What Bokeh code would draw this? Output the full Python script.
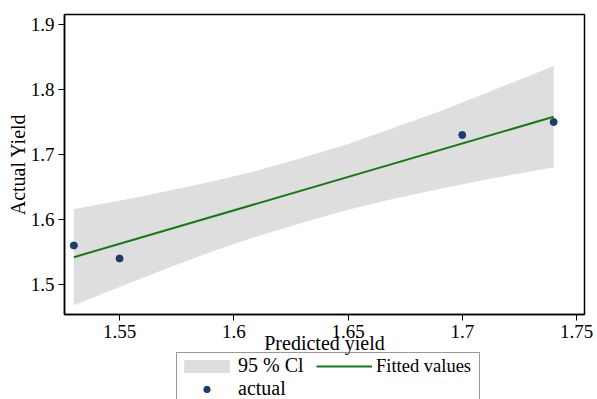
from bokeh.plotting import figure
from bokeh.layouts import column
from bokeh.models import Legend, LegendItem, Range1d, FixedTicker, ColumnDataSource
from bokeh.embed import file_html
from bokeh.resources import INLINE

# Observed data
pred_yield = [1.53, 1.55, 1.70, 1.74]
actual_yield = [1.56, 1.54, 1.73, 1.75]

# Fitted line end points
fit_x = [1.53, 1.74]
fit_y = [1.542, 1.758]

# 95% confidence band
band_x = [1.53, 1.55, 1.57, 1.59, 1.61, 1.63, 1.65, 1.67, 1.69, 1.71, 1.73, 1.74]
band_lo = [1.468, 1.496, 1.524, 1.550, 1.574, 1.595, 1.615, 1.632, 1.647, 1.661, 1.674, 1.680]
band_hi = [1.616, 1.629, 1.643, 1.658, 1.675, 1.695, 1.716, 1.741, 1.766, 1.794, 1.822, 1.836]

x_ticks = [1.55, 1.6, 1.65, 1.7, 1.75]
x_labels = ["1.55", "1.6", "1.65", "1.7", "1.75"]
y_ticks = [1.5, 1.6, 1.7, 1.8, 1.9]
y_labels = ["1.5", "1.6", "1.7", "1.8", "1.9"]

FONT = "Liberation Serif"
BAND_COLOR = "#dedede"
FIT_COLOR = "#157a15"
PT_COLOR = "#1a3c6e"


def add_series(fig):
    src = ColumnDataSource(dict(x=band_x, lo=band_lo, hi=band_hi))
    rb = fig.varea(x="x", y1="lo", y2="hi", source=src, fill_color=BAND_COLOR)
    rf = fig.line(fit_x, fit_y, line_color=FIT_COLOR, line_width=2)
    rp = fig.scatter(pred_yield, actual_yield, size=7, fill_color=PT_COLOR, line_color=PT_COLOR)
    return rb, rf, rp


p = figure(width=597, height=364, output_backend="svg", toolbar_location=None,
           x_range=Range1d(1.5259, 1.7535), y_range=Range1d(1.4538, 1.9154),
           min_border_left=64, min_border_right=13, min_border_top=14, min_border_bottom=50)

p.xgrid.visible = False
p.ygrid.visible = False
p.outline_line_color = "black"
p.outline_line_width = 1.5
p.background_fill_color = "white"
p.border_fill_color = "white"

add_series(p)

for ax, ticks, labels in ((p.xaxis[0], x_ticks, x_labels), (p.yaxis[0], y_ticks, y_labels)):
    ax.ticker = FixedTicker(ticks=ticks)
    ax.major_label_overrides = {t: l for t, l in zip(ticks, labels)}
    ax.minor_tick_line_color = None
    ax.major_tick_out = 6
    ax.major_tick_in = 0
    ax.major_label_standoff = 4
    ax.axis_line_color = "black"
    ax.axis_line_width = 1.5
    ax.major_tick_line_color = "black"
    ax.major_label_text_font = FONT
    ax.major_label_text_font_size = "19px"
    ax.major_label_text_color = "black"
    ax.axis_label_text_font = FONT
    ax.axis_label_text_font_size = "20px"
    ax.axis_label_text_font_style = "normal"
    ax.axis_label_text_color = "black"

p.xaxis.axis_label = "Predicted yield"
p.xaxis.axis_label_standoff = -9
p.yaxis.axis_label = "Actual Yield"
p.yaxis.axis_label_standoff = -1
p.yaxis.major_label_orientation = "horizontal"

# Legend strip: a transparent figure that overlaps the bottom of the plot.
# Its series lie outside its own ranges, so only the legend is visible.
lg = figure(width=597, height=49, output_backend="svg", toolbar_location=None,
            x_range=Range1d(0, 1), y_range=Range1d(0, 1),
            x_axis_location=None, y_axis_location=None,
            min_border_left=0, min_border_right=0, min_border_top=0, min_border_bottom=0,
            margin=(-14, 0, 0, 0))
lg.xgrid.visible = False
lg.ygrid.visible = False
lg.outline_line_color = None
lg.background_fill_alpha = 0
lg.border_fill_alpha = 0

g_band, g_fit, g_pts = add_series(lg)

leg1 = Legend(items=[LegendItem(label="95 % Cl", renderers=[g_band]),
                     LegendItem(label="actual", renderers=[g_pts])],
              location=(112, -3), padding=1, spacing=0, glyph_width=57, glyph_height=16,
              label_standoff=3, label_width=240, label_height=22,
              label_text_font=FONT, label_text_font_size="20px", label_text_color="black",
              border_line_color="#333333", border_line_width=1,
              background_fill_alpha=0)
leg2 = Legend(items=[LegendItem(label="Fitted values", renderers=[g_fit])],
              location=(251, 21), padding=1, spacing=0, glyph_width=56, glyph_height=16,
              label_standoff=4, label_height=22,
              label_text_font=FONT, label_text_font_size="18.5px", label_text_color="black",
              border_line_alpha=0, background_fill_alpha=0)
lg.add_layout(leg1, "center")
lg.add_layout(leg2, "center")

layout = column(p, lg, spacing=0)
open("out.html", "w").write(file_html(layout, INLINE))
